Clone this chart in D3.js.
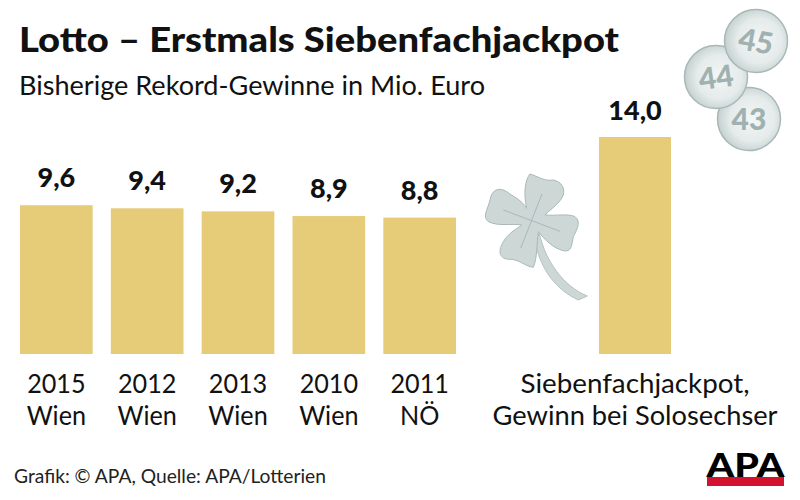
<!DOCTYPE html>
<html>
<head>
<meta charset="utf-8">
<script src="https://cdn.jsdelivr.net/npm/d3@7"></script>
<style>
  html, body { margin: 0; padding: 0; background: #fff; }
  svg { display: block; }
  text { font-family: Lato, sans-serif; fill: #111; }
</style>
</head>
<body>
<svg id="chart" width="800" height="500"></svg>
<script>
// values
const recordYears = ["2015", "2012", "2013", "2010", "2011"];
const recordPlaces = ["Wien", "Wien", "Wien", "Wien", "NÖ"];
const recordValues = [9.6, 9.4, 9.2, 8.9, 8.8];
const jackpotLines = ["Siebenfachjackpot,", "Gewinn bei Solosechser"];
const jackpotValues = [14.0];
const ballNumbers = ["43", "44", "45"];

const svg = d3.select("#chart");
const barColor = "#e6cb78";
const format = v => v.toFixed(1).replace(".", ",");

const y = d3.scaleLinear().domain([0, 14]).range([354, 137]);
const xRecord = d3.scaleBand().domain(recordYears).range([20, 456]).paddingInner(0.2);
const xJackpot = d3.scaleBand().domain(["jackpot"]).range([599, 671]);

// the original font is a bit narrower than Lato
function narrow() {
  return this.getComputedTextLength() * 0.95;
}

// title and subtitle
svg.append("text").attr("x", 19).attr("y", 52)
  .attr("textLength", 600).attr("lengthAdjust", "spacingAndGlyphs")
  .style("font-size", "35px").style("font-weight", 900)
  .text("Lotto – Erstmals Siebenfachjackpot");
svg.append("text").attr("x", 19).attr("y", 95)
  .attr("textLength", 466).attr("lengthAdjust", "spacingAndGlyphs")
  .style("font-size", "26.5px")
  .text("Bisherige Rekord-Gewinne in Mio. Euro");

// record bars
const records = recordYears.map((year, i) => ({ year, place: recordPlaces[i], value: recordValues[i] }));

svg.selectAll("rect.record").data(records).join("rect")
  .attr("class", "record")
  .attr("x", d => xRecord(d.year))
  .attr("y", d => y(d.value))
  .attr("width", xRecord.bandwidth())
  .attr("height", d => y(0) - y(d.value))
  .attr("fill", barColor);

svg.selectAll("text.value").data(records).join("text")
  .attr("class", "value")
  .attr("x", d => xRecord(d.year) + xRecord.bandwidth() / 2)
  .attr("y", d => y(d.value) - 18)
  .attr("text-anchor", "middle")
  .style("font-size", "27px").style("font-weight", 900)
  .text(d => format(d.value));

svg.selectAll("text.year").data(records).join("text")
  .attr("class", "year")
  .attr("x", d => xRecord(d.year) + xRecord.bandwidth() / 2)
  .attr("y", 393)
  .attr("text-anchor", "middle")
  .attr("lengthAdjust", "spacingAndGlyphs")
  .style("font-size", "26.5px")
  .text(d => d.year)
  .attr("textLength", narrow);

svg.selectAll("text.place").data(records).join("text")
  .attr("class", "place")
  .attr("x", d => xRecord(d.year) + xRecord.bandwidth() / 2)
  .attr("y", 425)
  .attr("text-anchor", "middle")
  .attr("lengthAdjust", "spacingAndGlyphs")
  .style("font-size", "26.5px")
  .text(d => d.place)
  .attr("textLength", narrow);

// jackpot bar
svg.selectAll("rect.jackpot").data(jackpotValues).join("rect")
  .attr("class", "jackpot")
  .attr("x", xJackpot("jackpot"))
  .attr("y", d => y(d))
  .attr("width", xJackpot.bandwidth())
  .attr("height", d => y(0) - y(d))
  .attr("fill", barColor);

svg.selectAll("text.jackpotValue").data(jackpotValues).join("text")
  .attr("class", "jackpotValue")
  .attr("x", xJackpot("jackpot") + xJackpot.bandwidth() / 2)
  .attr("y", d => y(d) - 17)
  .attr("text-anchor", "middle")
  .style("font-size", "27px").style("font-weight", 900)
  .text(d => format(d));

svg.selectAll("text.jackpotLabel").data(jackpotLines).join("text")
  .attr("class", "jackpotLabel")
  .attr("x", 635)
  .attr("y", (d, i) => 393 + i * 32)
  .attr("text-anchor", "middle")
  .attr("textLength", (d, i) => i === 0 ? 229 : 285)
  .attr("lengthAdjust", "spacingAndGlyphs")
  .style("font-size", "26.5px")
  .text(d => d);

// clover, traced in crop coordinates (3x)
const clover = svg.append("g").attr("transform", "translate(480,0) scale(0.3333)");
clover.append("path")
  .attr("d", "M178,700 C195,780 250,860 322,888 L295,900 C230,870 180,810 165,720 Z")
  .attr("fill", "#cdd7d6").attr("stroke", "#b4c1c0").attr("stroke-width", 3);
clover.append("path")
  .attr("d", "M140,625 C130,580 135,540 150,522 C175,530 195,545 220,540 C245,545 255,565 250,585 " +
             "C240,610 215,625 195,645 C230,648 265,640 285,650 C305,665 290,690 280,710 " +
             "C275,735 275,758 250,752 C220,745 195,720 175,695 C170,730 172,775 160,802 " +
             "C135,800 115,775 85,778 C55,775 55,750 70,725 C85,700 105,690 125,675 " +
             "C95,670 55,680 25,665 C5,650 25,625 30,600 C35,570 55,560 80,575 C100,590 125,600 140,625 Z")
  .attr("fill", "#cdd7d6").attr("stroke", "#a9b8b7").attr("stroke-width", 3).attr("stroke-linejoin", "round");
clover.append("path").attr("d", "M186,582 L122,745 M70,630 L240,694")
  .attr("fill", "none").attr("stroke", "#a9b8b7").attr("stroke-width", 3);

// lotto balls
const defs = svg.append("defs");
const grad = defs.append("radialGradient").attr("id", "ball").attr("cx", "55%").attr("cy", "50%").attr("r", "55%");
grad.append("stop").attr("offset", "0%").attr("stop-color", "#f4f7f6");
grad.append("stop").attr("offset", "65%").attr("stop-color", "#e4ebea");
grad.append("stop").attr("offset", "100%").attr("stop-color", "#c3d0cf");

const ballX = d3.scaleOrdinal().domain(ballNumbers).range([749, 716, 756]);
const ballY = d3.scaleOrdinal().domain(ballNumbers).range([119, 77, 41]);
const ballTilt = d3.scaleOrdinal().domain(ballNumbers).range([0, -8, 10]);

const balls = svg.selectAll("g.ball").data(ballNumbers).join("g")
  .attr("class", "ball")
  .attr("transform", d => `translate(${ballX(d)},${ballY(d)})`);
balls.append("circle").attr("r", 31.5)
  .attr("fill", "url(#ball)").attr("stroke", "#a9b8b7").attr("stroke-width", 1.5);
balls.append("text")
  .attr("transform", d => `rotate(${ballTilt(d)})`)
  .attr("y", 11).attr("text-anchor", "middle")
  .style("font-size", "30px").style("font-weight", 900).style("fill", "#9fb1b1")
  .text(d => d);

// footer
svg.append("text").attr("x", 14).attr("y", 483)
  .attr("textLength", 312).attr("lengthAdjust", "spacingAndGlyphs")
  .style("font-size", "20px").style("fill", "#222")
  .text("Grafik: © APA, Quelle: APA/Lotterien");

svg.append("text").attr("x", 745.5).attr("y", 477)
  .attr("text-anchor", "middle")
  .attr("textLength", 78).attr("lengthAdjust", "spacingAndGlyphs")
  .style("font-size", "32px").style("font-weight", 900).style("fill", "#000")
  .text("APA");
svg.append("rect").attr("x", 707).attr("y", 477).attr("width", 77).attr("height", 9).attr("fill", "#d2122e");
</script>
</body>
</html>
